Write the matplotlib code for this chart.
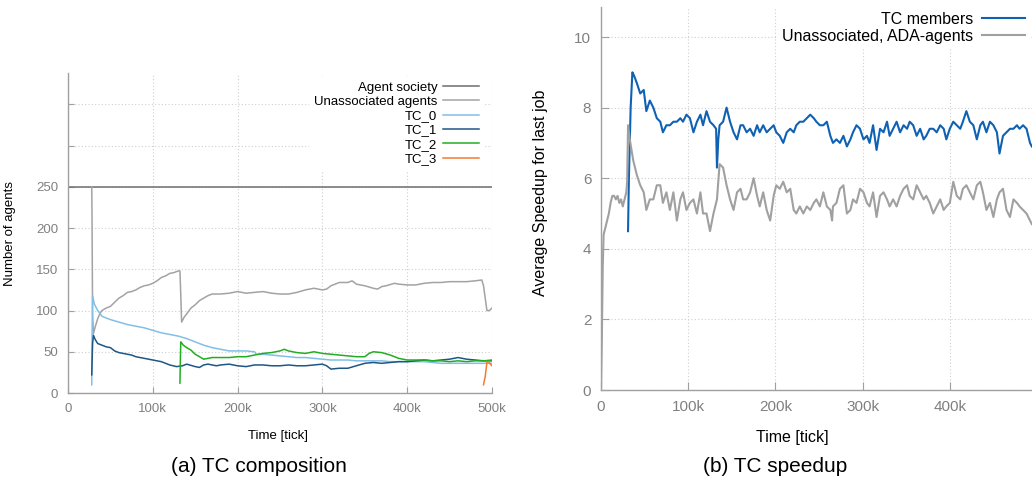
import matplotlib
matplotlib.use("Agg")
import matplotlib.pyplot as plt

plt.rcParams["font.family"] = ["Liberation Sans", "DejaVu Sans"]

# ---- (a) TC composition: agent counts over time (time in k ticks) ----
society_t = [0, 500]
society_n = [250, 250]

unassoc_t = [28, 28.3, 29, 30, 32, 35, 38, 40, 45, 50, 55, 60, 65, 70, 75, 80, 85, 90,
             95, 100, 105, 110, 115, 120, 125, 130, 132, 133, 134, 137, 140, 145, 150,
             155, 160, 165, 170, 180, 190, 200, 210, 220, 230, 240, 250, 260, 270, 280,
             290, 300, 305, 310, 320, 330, 335, 340, 350, 360, 365, 370, 375, 385, 390,
             400, 410, 420, 430, 440, 450, 460, 470, 480, 488, 490, 492, 494, 497, 500]
unassoc_n = [250, 217, 95, 72, 80, 90, 97, 100, 103, 105, 110, 115, 118, 122, 123, 125,
             128, 130, 131, 133, 136, 140, 142, 145, 146, 148, 148, 118, 86, 92, 96, 103,
             107, 112, 115, 118, 120, 120, 121, 123, 121, 122, 123, 121, 120, 120, 122,
             125, 127, 125, 126, 130, 134, 134, 136, 132, 130, 127, 126, 129, 130, 133,
             132, 131, 131, 133, 134, 134, 135, 135, 135, 136, 137, 130, 115, 100, 100, 103]

tc0_t = [28, 28.5, 29, 31, 33, 35, 38, 40, 45, 50, 60, 70, 80, 90, 100, 110, 120, 130,
         140, 150, 160, 170, 180, 190, 200, 210, 220, 222, 230, 240, 250, 260, 270, 280,
         290, 300, 310, 320, 330, 340, 350, 360, 370, 380, 390, 400, 410, 420, 430, 440,
         450, 460, 470, 480, 490, 500]
tc0_n = [10, 80, 118, 108, 104, 100, 96, 93, 91, 89, 86, 83, 81, 79, 76, 73, 71, 69,
         66, 62, 58, 55, 53, 51, 51, 51, 50, 47, 47, 46, 45, 44, 43, 43, 42, 41, 40, 40,
         40, 39, 39, 39, 39, 38, 38, 38, 38, 38, 37, 36, 36, 36, 36, 36, 36, 36]

tc1_t = [28, 29, 30, 32, 35, 40, 45, 50, 55, 60, 70, 75, 80, 90, 95, 100, 110, 115, 120,
         128, 135, 140, 150, 155, 160, 165, 175, 180, 190, 200, 210, 220, 230, 240, 250,
         260, 270, 280, 290, 300, 305, 310, 320, 330, 340, 350, 360, 370, 380, 390, 400,
         410, 420, 430, 440, 450, 460, 470, 480, 490, 500]
tc1_n = [22, 60, 70, 65, 60, 58, 56, 55, 51, 49, 47, 46, 44, 42, 41, 40, 38, 36, 34, 32,
         33, 35, 32, 31, 34, 35, 33, 34, 35, 33, 32, 34, 34, 33, 33, 34, 33, 33, 34, 35,
         33, 29, 30, 30, 33, 36, 37, 36, 37, 38, 38, 39, 40, 39, 40, 41, 43, 41, 40, 39, 39]

tc2_t = [132, 132.5, 133, 136, 140, 145, 150, 155, 160, 165, 170, 180, 190, 200, 210, 220,
         230, 240, 250, 255, 260, 270, 280, 290, 300, 310, 320, 330, 340, 350, 355, 360,
         370, 380, 390, 400, 410, 420, 430, 440, 450, 460, 470, 480, 490, 500]
tc2_n = [12, 40, 62, 58, 55, 52, 47, 44, 41, 42, 43, 43, 43, 44, 44, 46, 48, 49, 51, 53,
         51, 49, 48, 50, 48, 47, 46, 45, 44, 44, 48, 50, 49, 46, 42, 40, 40, 40, 39, 39,
         38, 39, 38, 39, 39, 40]

tc3_t = [490, 492, 494, 496, 498, 500]
tc3_n = [10, 20, 37, 38, 35, 33]

# ---- (b) TC speedup: average speedup of the last job ----
ada_t = [0, 1, 2, 3, 5, 7, 9, 11, 13, 15, 17, 19, 21, 23, 25, 27, 29, 30, 31, 33, 37, 41,
         45, 49, 52, 56, 60, 64, 68, 71, 75, 79, 83, 87, 91, 94, 98, 102, 106, 110, 114,
         117, 121, 125, 129, 133, 136, 140, 144, 148, 152, 156, 160, 163, 167, 171, 175,
         179, 182, 186, 190, 194, 198, 201, 205, 209, 213, 217, 221, 224, 228, 232, 236,
         240, 244, 247, 251, 255, 259, 263, 265, 266, 270, 274, 278, 282, 286, 289, 293,
         297, 301, 305, 308, 312, 316, 320, 324, 328, 331, 335, 339, 343, 347, 351, 354,
         358, 362, 366, 370, 373, 377, 381, 385, 389, 393, 396, 400, 404, 408, 412, 415,
         419, 423, 427, 431, 435, 438, 442, 446, 450, 454, 457, 461, 465, 469, 473, 477,
         480, 484, 488, 492, 494]
ada_speedup = [0, 1.5, 3.5, 4.4, 4.6, 4.8, 5.0, 5.3, 5.5, 5.5, 5.4, 5.5, 5.3, 5.4, 5.2,
               5.4, 5.6, 5.9, 7.5, 7.1, 6.5, 6.1, 5.8, 5.6, 5.1, 5.4, 5.4, 5.8, 5.8, 5.3,
               5.6, 5.1, 5.6, 4.8, 5.4, 5.6, 5.1, 5.3, 5.4, 5.0, 5.6, 5.0, 5.0, 4.5, 5.0,
               5.4, 6.4, 6.3, 5.8, 5.4, 5.1, 5.6, 5.7, 5.4, 5.4, 5.6, 6.0, 5.5, 5.2, 5.6,
               5.1, 4.8, 5.5, 5.8, 5.7, 5.9, 5.6, 5.7, 5.1, 5.0, 5.2, 5.0, 5.2, 5.1, 5.3,
               5.4, 5.2, 5.6, 5.2, 5.1, 4.8, 5.2, 5.3, 5.7, 5.8, 5.0, 5.1, 5.4, 5.3, 5.7,
               5.6, 5.3, 5.2, 5.6, 4.9, 5.5, 5.6, 5.4, 5.2, 5.4, 5.2, 5.5, 5.7, 5.8, 5.5,
               5.4, 5.8, 5.6, 5.4, 5.5, 5.3, 5.0, 5.2, 5.4, 5.1, 5.2, 5.3, 5.9, 5.5, 5.4,
               5.7, 5.8, 5.6, 5.4, 5.8, 5.9, 5.6, 5.1, 5.3, 4.9, 5.4, 5.6, 5.7, 5.1, 4.9,
               5.4, 5.3, 5.2, 5.1, 5.0, 4.8, 4.7]

tc_t = [31, 32, 34, 36, 38, 41, 45, 49, 52, 56, 60, 64, 68, 71, 75, 79, 83, 87, 91, 94,
        98, 102, 106, 110, 114, 117, 121, 125, 129, 132, 133, 134.5, 136, 140, 144, 148,
        152, 156, 160, 163, 167, 171, 175, 179, 182, 186, 190, 194, 198, 201, 205, 209,
        213, 217, 221, 224, 228, 232, 236, 240, 244, 247, 251, 255, 259, 263, 266, 270,
        274, 278, 282, 286, 289, 293, 297, 301, 305, 308, 312, 316, 320, 324, 328, 331,
        335, 339, 343, 347, 351, 354, 358, 362, 366, 370, 373, 377, 381, 385, 389, 393,
        396, 400, 404, 408, 412, 415, 419, 423, 427, 431, 435, 438, 442, 446, 450, 454,
        457, 461, 465, 469, 473, 477, 480, 484, 488, 492, 494]
tc_speedup = [4.5, 6.0, 8.0, 9.0, 8.9, 8.7, 8.4, 8.5, 7.9, 8.2, 8.0, 7.7, 7.6, 7.3, 7.5,
              7.5, 7.6, 7.6, 7.7, 7.6, 7.8, 7.7, 7.3, 7.6, 7.8, 7.5, 7.9, 7.6, 7.5, 7.4,
              6.3, 7.1, 7.5, 7.6, 8.0, 7.6, 7.3, 7.1, 7.5, 7.5, 7.3, 7.4, 7.2, 7.5, 7.3,
              7.5, 7.3, 7.4, 7.5, 7.3, 7.2, 7.0, 7.3, 7.4, 7.3, 7.5, 7.6, 7.6, 7.7, 7.8,
              7.7, 7.6, 7.5, 7.5, 7.6, 7.2, 7.0, 7.1, 7.0, 7.2, 6.9, 7.1, 7.3, 7.5, 7.4,
              7.1, 7.2, 7.0, 7.5, 6.8, 7.4, 7.3, 7.6, 7.2, 7.4, 7.6, 7.3, 7.5, 7.4, 7.6,
              7.5, 7.2, 7.4, 7.1, 7.2, 7.4, 7.4, 7.3, 7.5, 7.4, 7.1, 7.4, 7.6, 7.5, 7.4,
              7.6, 7.9, 7.6, 7.5, 7.1, 7.5, 7.6, 7.3, 7.6, 7.5, 7.3, 6.7, 7.2, 7.3, 7.4,
              7.4, 7.5, 7.4, 7.5, 7.4, 7.0, 6.9]

TICK_GREY = "#808080"
AXIS_GREY = "#a0a0a0"


def k(ts):
    return [t * 1000 for t in ts]


def style_axes(ax, fs, ticklen):
    for side in ("top", "right"):
        ax.spines[side].set_visible(False)
    for side in ("left", "bottom"):
        ax.spines[side].set_color(AXIS_GREY)
        ax.spines[side].set_linewidth(1.0)
    ax.tick_params(direction="in", length=ticklen, color=AXIS_GREY,
                   labelcolor=TICK_GREY, labelsize=fs, pad=7)
    ax.grid(True, color="#cfcfcf", linestyle=(0, (1, 2)), linewidth=0.8)
    ax.set_axisbelow(True)


fig = plt.figure(figsize=(10.32, 4.82), dpi=100)

# (a) composition
ax1 = fig.add_axes([68 / 1032, 89 / 482, 424 / 1032, 320 / 482])
ax1.plot(k(society_t), society_n, color="#6e6e6e", lw=1.1, label="Agent society")
ax1.plot(k(unassoc_t), unassoc_n, color="#a3a3a3", lw=1.1, label="Unassociated agents")
ax1.plot(k(tc0_t), tc0_n, color="#82bfe6", lw=1.1, label="TC_0")
ax1.plot(k(tc1_t), tc1_n, color="#1d5785", lw=1.1, label="TC_1")
ax1.plot(k(tc2_t), tc2_n, color="#22ae22", lw=1.1, label="TC_2")
ax1.plot(k(tc3_t), tc3_n, color="#f47a32", lw=1.1, label="TC_3")
ax1.set_xlim(0, 500000)
ax1.set_ylim(0, 388)
ax1.set_xticks([0, 100000, 200000, 300000, 400000, 500000])
ax1.set_xticklabels(["0", "100k", "200k", "300k", "400k", "500k"])
ax1.set_yticks([0, 50, 100, 150, 200, 250, 300, 350])
ax1.set_yticklabels(["0", "50", "100", "150", "200", "250", "", ""])
style_axes(ax1, 9.5, 4)
ax1.set_xlabel("Time [tick]", fontsize=9.5)
ax1.set_ylabel("Number of agents", fontsize=9.5)
ax1.yaxis.set_label_coords(-0.123, 0.5)
ax1.xaxis.set_label_coords(0.495, -0.116)
leg1 = ax1.legend(loc="upper right", bbox_to_anchor=(484 / 1032, 1 - 76 / 482),
                  bbox_transform=fig.transFigure, fontsize=9.5, markerfirst=False,
                  frameon=True, fancybox=False, framealpha=1, edgecolor="none",
                  facecolor="white", handlelength=2.7, handletextpad=0.45,
                  labelspacing=0.16, borderpad=0.4, borderaxespad=0)

# (b) speedup
ax2 = fig.add_axes([601 / 1032, 92 / 482, 436 / 1032, 383 / 482])
ax2.plot(k(tc_t), tc_speedup, color="#0f62b3", lw=1.5, label="TC members")
ax2.plot(k(ada_t), ada_speedup, color="#a0a0a0", lw=1.5, label="Unassociated, ADA-agents")
ax2.set_xlim(0, 500000)
ax2.set_ylim(0, 10.85)
ax2.set_xticks([0, 100000, 200000, 300000, 400000])
ax2.set_xticklabels(["0", "100k", "200k", "300k", "400k"])
ax2.set_yticks([0, 2, 4, 6, 8, 10])
style_axes(ax2, 11, 6)
ax2.set_xlabel("Time [tick]", fontsize=11.5)
ax2.set_ylabel("Average Speedup for last job", fontsize=11.5)
ax2.yaxis.set_label_coords(-0.1216, 0.514)
ax2.xaxis.set_label_coords(0.438, -0.104)
leg2 = ax2.legend(loc="upper right", bbox_to_anchor=(1030 / 1032, 1 - 7 / 482),
                  bbox_transform=fig.transFigure, fontsize=11.5, markerfirst=False,
                  frameon=True, fancybox=False, framealpha=1, edgecolor="none",
                  facecolor="white", handlelength=2.7, handletextpad=0.55,
                  labelspacing=0.12, borderpad=0.3, borderaxespad=0)

fig.text(259 / 1032, 1 - 467 / 482, "(a) TC composition", fontsize=15,
         ha="center", va="center")
fig.text(775 / 1032, 1 - 467 / 482, "(b) TC speedup", fontsize=15,
         ha="center", va="center")

fig.savefig("out.png", dpi=100)
